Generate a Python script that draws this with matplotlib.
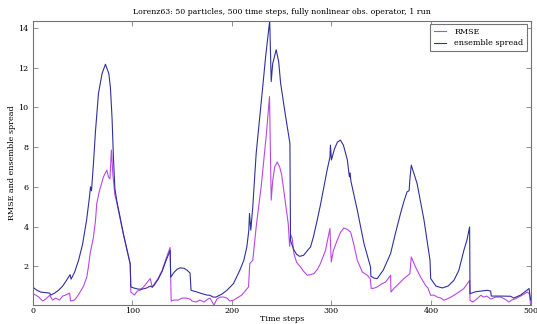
import matplotlib
matplotlib.use("Agg")
import matplotlib.pyplot as plt

# ensemble spread, read at irregular time steps
spread_t = [0, 4, 8, 12, 17, 18, 22, 26, 30, 34, 37.5, 38.5, 42, 46, 50, 54, 57, 58, 59,
            61, 63, 66, 69.6, 73, 76.4, 78, 79.7, 81, 82.5, 84.4, 91, 97.8,
            98.5, 102, 106, 110, 114, 118, 120, 122, 126, 130, 134, 138, 138.5, 142, 145,
            148, 152, 155, 158, 159, 164, 170, 175, 178, 181, 184, 190, 195, 201.6, 208,
            212, 215, 217, 217.7, 219, 221, 224.4, 228, 231, 234, 238, 239.5, 241, 244.5,
            247, 249, 254, 258.3, 258.9, 262, 265, 268, 272, 276, 279, 282, 285.7, 289,
            292.5, 295.5, 298.5, 299, 300, 303, 306, 309, 312, 316, 318, 318.8, 319.5,
            326, 332.7, 339.3, 339.6, 343, 346, 352, 359.4, 364, 369.4, 373, 376, 378,
            379, 380.2, 382, 386, 393, 399, 399.7, 405, 411.4, 417, 423, 428, 433, 436,
            438.8, 439.2, 445, 456.6, 460, 460.5, 470, 480, 483, 490, 498.5, 500]
spread = [0.95, 0.8, 0.7, 0.68, 0.65, 0.55, 0.65, 0.8, 1.0, 1.3, 1.58, 1.35, 1.7, 2.3, 3.1,
          4.3, 5.5, 6.0, 5.8, 7.2, 8.8, 10.7, 11.7, 12.17, 11.7, 11.0, 9.4, 7.5, 5.9, 5.3,
          3.65, 2.13, 0.96, 0.9, 0.85, 0.85, 0.9, 1.0, 0.95, 1.05, 1.35, 1.75, 2.3, 2.8,
          1.45, 1.7, 1.85, 1.92, 1.9, 1.8, 1.66, 0.79, 0.72, 0.62, 0.55, 0.54, 0.45, 0.45,
          0.6, 0.79, 1.13, 1.8, 2.3, 2.97, 3.8, 4.66, 3.82, 5.0, 7.68, 9.5, 11.04, 12.6,
          14.37, 11.3, 12.2, 12.9, 12.3, 11.2, 9.53, 8.19, 3.3, 2.85, 2.6, 2.5, 2.55, 2.8,
          2.97, 3.5, 4.32, 5.1, 6.0, 6.8, 7.5, 8.1, 7.35, 7.9, 8.25, 8.35, 8.1, 7.35, 6.5,
          6.7, 6.3, 4.82, 3.14, 1.96, 1.5, 1.4, 1.38, 1.8, 2.64, 3.6, 4.66, 5.3, 5.75,
          5.8, 6.5, 7.09, 6.8, 6.17, 4.32, 2.3, 1.38, 1.0, 0.91, 1.0, 1.29, 1.8, 2.8, 3.3,
          3.98, 0.62, 0.72, 0.79, 0.75, 0.5, 0.5, 0.49, 0.4, 0.55, 0.88, 0.3]

# RMSE, read at irregular time steps
rmse_t = [0, 3, 6, 10, 13, 17, 20, 23, 27, 30, 33, 37, 38, 42, 45, 47.5, 51, 54.3, 56,
          57.6, 61, 63, 64.3, 67, 71, 74.4, 76, 77.5, 79, 80.5, 82.5, 84.4, 91, 98,
          98.5, 100, 102, 105, 108, 112, 115, 118, 120, 122, 126, 130, 134, 138, 139,
          142, 146, 150, 154, 158, 160, 164, 168, 172, 176, 178, 182, 185, 188, 192, 195,
          198, 202, 205, 210, 214, 216.7, 218, 221, 224.4, 229.4, 234.4, 237.8, 239.5,
          241, 243, 245.5, 248, 250, 253, 256.6, 258, 259, 260.6, 262.3, 265, 269, 272,
          275.7, 279, 282.4, 286, 289, 294, 296, 298.5, 299.8, 302, 305.8, 309, 312.5,
          316, 319.2, 322, 326, 331, 336, 339, 340, 343, 346, 350, 354.4, 359.4, 359.8,
          363, 366, 372.8, 378.8, 380.2, 384.5, 389.5, 394.5, 397, 399.6, 403, 406.3, 410,
          413, 416, 420, 423, 428, 433, 438.8, 439.2, 442, 446, 450, 453, 456, 460, 465,
          470, 474, 478.4, 481, 485, 490, 496.8, 499, 500]
rmse = [0.62, 0.55, 0.45, 0.25, 0.35, 0.54, 0.3, 0.4, 0.3, 0.5, 0.55, 0.65, 0.25, 0.3, 0.5,
        0.7, 1.0, 1.46, 2.0, 2.64, 3.48, 4.3, 5.16, 5.8, 6.5, 6.84, 6.5, 6.4, 7.85, 6.6,
        5.6, 5.2, 3.6, 2.1, 0.7, 0.65, 0.55, 0.75, 0.8, 1.0, 1.2, 1.38, 0.95, 1.1, 1.4,
        1.8, 2.4, 2.95, 0.25, 0.3, 0.3, 0.4, 0.4, 0.35, 0.25, 0.2, 0.3, 0.2, 0.35, 0.4,
        0.05, 0.35, 0.45, 0.45, 0.4, 0.25, 0.3, 0.4, 0.55, 0.8, 0.96, 2.14, 2.3, 3.98, 6.0,
        8.52, 10.54, 5.33, 6.3, 7.0, 7.25, 7.0, 6.6, 5.5, 4.15, 3.0, 3.6, 3.4, 2.64, 2.2,
        1.96, 1.75, 1.55, 1.58, 1.63, 1.85, 2.14, 2.8, 3.3, 3.9, 2.22, 2.8, 3.31, 3.7,
        3.93, 3.85, 3.73, 3.2, 2.3, 1.71, 1.55, 1.38, 0.88, 0.9, 0.96, 1.1, 1.21, 1.55,
        0.7, 0.9, 1.04, 1.38, 1.63, 2.47, 1.96, 1.46, 1.04, 0.9, 0.54, 0.55, 0.45, 0.4,
        0.29, 0.35, 0.45, 0.54, 0.7, 0.88, 1.29, 0.29, 0.2, 0.35, 0.54, 0.45, 0.5, 0.35,
        0.45, 0.45, 0.35, 0.2, 0.3, 0.37, 0.5, 0.7, 0.6, 0.05]

plt.rcParams["font.family"] = "DejaVu Serif"
fs = 5.8

fig = plt.figure(figsize=(5.37, 3.24), dpi=100, facecolor="white")
ax = fig.add_axes([0.061, 0.0586, 0.927, 0.878])

ax.plot(rmse_t, rmse, color="#b847e6", lw=0.8, label="RMSE")
ax.plot(spread_t, spread, color="#30309e", lw=0.8, label="ensemble spread")

ax.set_xlim(0, 500)
ax.set_ylim(min(min(rmse), min(spread)), max(max(rmse), max(spread)))
ax.set_yticks([2, 4, 6, 8, 10, 12, 14])
ax.set_xticks([0, 100, 200, 300, 400, 500])
ax.tick_params(direction="in", top=True, right=True, length=3.5, width=0.5,
               color="0.4", labelsize=fs)
ax.tick_params(axis="x", pad=1.5)
ax.tick_params(axis="y", pad=3)
for sp in ax.spines.values():
    sp.set_color("0.45")
    sp.set_linewidth(0.8)

ax.set_title("Lorenz63: 50 particles, 500 time steps, fully nonlinear obs. operator, 1 run",
             fontsize=5.6, pad=5)
ax.set_xlabel("Time steps", fontsize=fs, labelpad=0)
ax.set_ylabel("RMSE and ensemble spread", fontsize=fs, labelpad=2)

leg = ax.legend(loc="upper right", fontsize=fs, fancybox=False, framealpha=1,
                handlelength=1.5, handletextpad=1.0, borderpad=0.45,
                labelspacing=0.45, borderaxespad=0.45)
leg.get_frame().set_edgecolor("0.45")
leg.get_frame().set_linewidth(0.8)

fig.savefig("out.png", dpi=100, facecolor="white")
